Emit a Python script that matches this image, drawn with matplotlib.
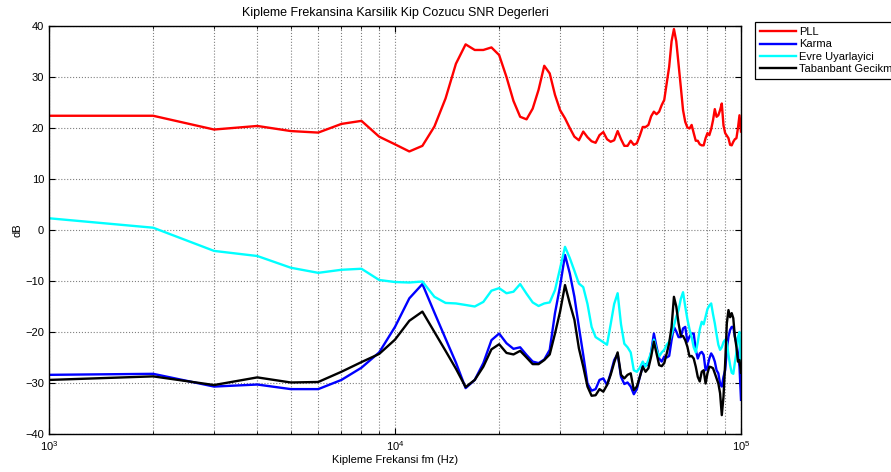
import numpy as np
import matplotlib
matplotlib.use('Agg')
import matplotlib.pyplot as plt
from matplotlib.ticker import LogLocator, NullFormatter

plt.rcParams['font.family'] = ['Liberation Sans', 'DejaVu Sans']

# modulation frequency grid, 1 kHz steps from 1 kHz to 100 kHz
fm = np.arange(1, 101) * 1000

pll = [22.4, 22.4, 19.7, 20.4, 19.4, 19.1, 20.8, 21.4, 18.3, 16.8,
       15.4, 16.5, 20.3, 25.8, 32.6, 36.4, 35.3, 35.3, 35.8, 34.3,
       30.0, 25.3, 22.2, 21.7, 23.8, 27.5, 32.2, 30.7, 26.5, 23.5,
       21.9, 20.0, 18.3, 17.6, 19.3, 18.2, 17.4, 17.1, 18.6, 19.2,
       17.8, 17.3, 17.6, 19.4, 17.8, 16.5, 16.5, 17.5, 16.7, 17.0,
       18.5, 20.2, 20.2, 20.6, 22.3, 23.2, 22.7, 23.2, 24.5, 25.5,
       28.8, 32.0, 37.0, 39.4, 37.0, 32.5, 28.0, 23.5, 21.2, 20.1,
       19.9, 20.6, 19.0, 17.5, 17.5, 16.8, 16.6, 16.6, 18.0, 19.0,
       18.6, 19.8, 21.5, 23.7, 22.2, 22.5, 23.5, 24.8, 20.5, 19.0,
       18.5, 18.0, 16.7, 16.6, 17.3, 17.8, 18.0, 20.0, 22.5, 19.3]

karma = [-28.4, -28.2, -30.7, -30.3, -31.2, -31.2, -29.4, -27.0, -24.0, -19.0,
         -13.4, -10.6, -16.2, -21.3, -26.0, -31.0, -29.4, -26.1, -21.6, -20.3,
         -22.2, -23.3, -23.0, -24.5, -25.8, -26.1, -25.4, -23.5, -16.3, -11.0,
         -4.9, -8.5, -13.1, -19.0, -24.5, -30.1, -31.5, -31.2, -29.4, -29.1,
         -30.4, -28.1, -25.5, -24.3, -28.8, -30.2, -29.9, -30.7, -32.2, -31.2,
         -28.8, -26.7, -26.3, -26.5, -23.9, -20.3, -22.9, -25.2, -25.8, -24.8,
         -25.0, -24.7, -21.6, -19.0, -19.9, -21.0, -21.0, -19.3, -19.0, -21.9,
         -20.9, -20.3, -20.3, -23.5, -25.2, -24.2, -23.9, -24.5, -27.5, -26.8,
         -25.2, -24.2, -24.8, -25.8, -27.5, -28.1, -30.1, -30.7, -28.8, -27.5,
         -23.5, -20.9, -19.6, -19.0, -19.0, -20.9, -22.2, -24.2, -26.8, -33.3]

evre = [2.3, 0.45, -4.1, -5.1, -7.4, -8.4, -7.8, -7.6, -9.8, -10.2,
        -10.3, -10.1, -13.1, -14.3, -14.4, -14.7, -15.0, -14.1, -11.9, -11.4,
        -12.4, -12.1, -10.6, -12.5, -14.2, -14.9, -14.4, -14.2, -11.8, -7.5,
        -3.3, -5.5, -8.0, -10.5, -11.2, -14.5, -19.0, -21.0, -21.5, -22.0,
        -22.5, -18.5, -14.5, -12.4, -18.5, -22.3, -23.0, -24.0, -27.5, -27.8,
        -27.0, -25.8, -26.8, -25.5, -24.0, -21.5, -23.5, -24.8, -24.0, -23.5,
        -22.5, -21.9, -20.5, -18.8, -17.0, -15.7, -13.5, -12.2, -15.0, -17.5,
        -19.5, -21.0, -23.0, -24.0, -22.0, -19.5, -18.0, -18.5, -17.0, -15.5,
        -14.8, -14.4, -16.5, -18.3, -20.5, -22.5, -23.5, -23.0, -22.0, -21.5,
        -22.0, -24.5, -26.5, -28.0, -28.2, -26.0, -24.0, -21.0, -20.0, -27.5]

tabanbant = [-29.4, -28.7, -30.4, -28.9, -29.9, -29.8, -27.8, -25.9, -24.3, -21.5,
             -17.8, -16.0, -20.0, -23.7, -27.2, -30.8, -29.4, -26.8, -23.4, -22.4,
             -24.1, -24.4, -23.7, -25.0, -26.3, -26.3, -25.5, -24.4, -20.3, -16.0,
             -10.8, -14.4, -17.6, -23.2, -26.8, -30.7, -32.5, -32.4, -31.2, -31.7,
             -30.4, -28.4, -26.0, -24.0, -28.4, -29.1, -28.4, -28.1, -31.4, -30.7,
             -28.8, -26.8, -27.8, -27.1, -24.8, -21.9, -24.2, -26.5, -26.7, -26.1,
             -24.2, -22.2, -19.0, -13.1, -15.0, -18.3, -20.8, -20.8, -21.6, -22.9,
             -24.8, -24.7, -25.2, -26.8, -28.8, -29.7, -27.8, -27.5, -30.1, -28.1,
             -26.8, -26.9, -27.1, -28.1, -29.1, -30.1, -32.0, -36.3, -32.7, -26.1,
             -18.3, -15.7, -17.1, -16.3, -17.3, -20.9, -22.9, -25.8, -25.5, -28.0]

labels = ['PLL', 'Karma', 'Evre Uyarlayici', 'Tabanbant Gecikme']
colors = ['red', 'blue', 'cyan', 'black']

fig = plt.figure(figsize=(8.91, 4.72), dpi=100)
ax = fig.add_axes([49 / 891, 1 - 434 / 472, (741 - 49) / 891, (434 - 26) / 472])

for y, lab, c in zip([pll, karma, evre, tabanbant], labels, colors):
    ax.semilogx(fm, y, color=c, lw=1.7, label=lab)

ax.set_xlim(1e3, 1e5)
ax.set_ylim(-40, 40)
ax.set_yticks(np.arange(-40, 41, 10))
ax.xaxis.set_major_locator(LogLocator(base=10, numticks=10))
ax.xaxis.set_minor_locator(LogLocator(base=10, subs=np.arange(2, 10), numticks=20))
ax.xaxis.set_minor_formatter(NullFormatter())

# matlab style box, inward ticks on all sides
ax.tick_params(which='both', direction='in', top=True, right=True, labelsize=8)
ax.tick_params(which='major', length=4, width=0.8)
ax.tick_params(which='minor', length=2, width=0.6)
ax.grid(True, which='major', linestyle=':', color='0.5', lw=0.8)
ax.grid(True, which='minor', axis='x', linestyle=':', color='0.5', lw=0.8)
for s in ax.spines.values():
    s.set_linewidth(1.0)

ax.set_title('Kipleme Frekansina Karsilik Kip Cozucu SNR Degerleri', fontsize=9, pad=7)
ax.set_xlabel('Kipleme Frekansi fm (Hz)', fontsize=8, labelpad=2)
ax.set_ylabel('dB', fontsize=8, labelpad=2)

leg = fig.legend(loc='upper left', bbox_to_anchor=(755 / 891, 1 - 22 / 472),
                 fontsize=8, frameon=True, fancybox=False, framealpha=1,
                 edgecolor='black', handlelength=3.2, handletextpad=0.3,
                 borderpad=0.45, labelspacing=0.22, borderaxespad=0)
leg.get_frame().set_linewidth(0.9)

plt.savefig('out.png', dpi=100)
